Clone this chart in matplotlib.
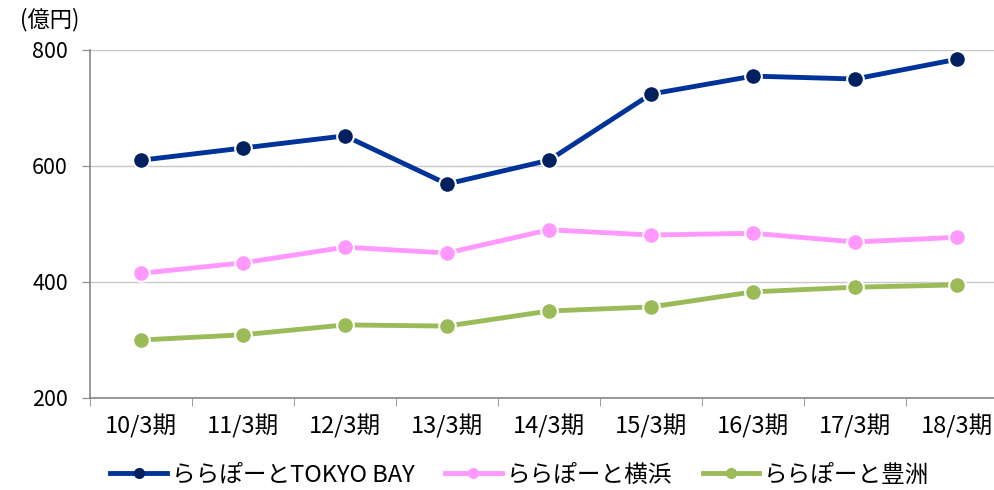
import matplotlib.pyplot as plt
from matplotlib.lines import Line2D
import numpy as np

plt.rcParams['font.family'] = ['Noto Sans CJK JP', 'DejaVu Sans']

periods = ['10/3期', '11/3期', '12/3期', '13/3期', '14/3期', '15/3期', '16/3期', '17/3期', '18/3期']
tokyo_bay = [610, 631, 652, 569, 610, 724, 755, 750, 784]
yokohama = [415, 433, 460, 450, 490, 481, 484, 469, 477]
toyosu = [300, 309, 326, 324, 350, 357, 383, 391, 395]

series = [
    ('ららぽーとTOKYO BAY', tokyo_bay, '#003399', '#002060'),
    ('ららぽーと横浜', yokohama, '#ff99ff', '#ff99ff'),
    ('ららぽーと豊洲', toyosu, '#9bbb59', '#9bbb59'),
]

fig = plt.figure(figsize=(9.94, 4.9), dpi=100)
ax = fig.add_axes([90 / 994, 1 - 398 / 490, 918 / 994, 348 / 490])

x = np.arange(len(periods))
handles = []
for name, vals, lc, mc in series:
    ax.plot(x, vals, color=lc, lw=3.5, marker='o', ms=12, mfc=mc,
            mec='white', mew=1.5, zorder=3)
    handles.append(Line2D([], [], color=lc, lw=3.5, marker='o', ms=7,
                          mfc=mc, mec=mc, label=name))

ax.set_xlim(-0.5, len(periods) - 0.5)
ax.set_ylim(200, 800)
ax.set_yticks([200, 400, 600, 800])
ax.set_xticks(x)
ax.set_xticklabels(periods)
ax.set_xticks(np.arange(-0.5, len(periods)), minor=True)
ax.tick_params(axis='x', which='major', length=0, pad=12, labelsize=17)
ax.tick_params(axis='x', which='minor', length=6, color='#888888')
ax.tick_params(axis='y', length=6, color='#888888', labelsize=15.5, pad=10)
ax.grid(axis='y', color='#c8c8c8', lw=1)
ax.set_axisbelow(True)
for s in ['top', 'right']:
    ax.spines[s].set_visible(False)
for s in ['left', 'bottom']:
    ax.spines[s].set_color('#888888')
    ax.spines[s].set_linewidth(1.2)

fig.text(20 / 994, 1 - 20 / 490, '(億円)', fontsize=16, va='center')

fig.legend(handles=handles, loc='center', bbox_to_anchor=(0.523, 1 - 475 / 490),
           ncol=3, frameon=False, fontsize=17, handlelength=2.4,
           columnspacing=1.3, handletextpad=0.2)

fig.savefig('out.png', dpi=100)
